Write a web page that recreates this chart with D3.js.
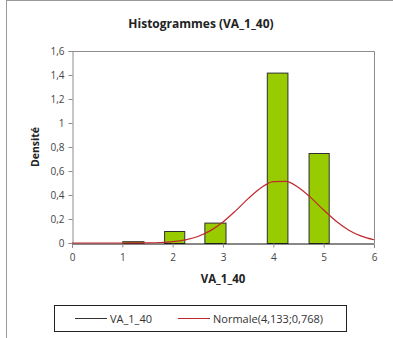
<!DOCTYPE html>
<html>
<head>
<meta charset="utf-8">
<script src="https://cdn.jsdelivr.net/npm/d3@7"></script>
<style>
  html, body { margin: 0; padding: 0; background: #fff; }
  svg { display: block; }
  text { font-family: "Open Sans", "DejaVu Sans", sans-serif; }
</style>
</head>
<body>
<svg id="chart" width="393" height="338"></svg>
<script>
// ---- data ----
const chartTitle = "Histogrammes (VA_1_40)";
const xTitle = "VA_1_40";
const yTitle = "Densité";
const binStart = [1.00, 1.83, 2.63, 3.87, 4.70];
const binEnd   = [1.42, 2.23, 3.05, 4.28, 5.10];
const density  = [0.015, 0.10, 0.17, 1.42, 0.75];
const curveX = [0, 0.25, 0.5, 0.75, 1, 1.25, 1.5, 1.75, 2, 2.25, 2.5, 2.75, 3, 3.25, 3.5, 3.75, 4, 4.25, 4.5, 4.75, 5, 5.25, 5.5, 5.75, 6];
const curveY = [0, 0, 0, 0, 0.0001, 0.0005, 0.0015, 0.0042, 0.011, 0.026, 0.054, 0.103, 0.175, 0.268, 0.370, 0.459, 0.512, 0.514, 0.463, 0.376, 0.275, 0.181, 0.107, 0.057, 0.027];
const xTicks = [0, 1, 2, 3, 4, 5, 6];
const yTicks = [0, 0.2, 0.4, 0.6, 0.8, 1, 1.2, 1.4, 1.6];
const legendLabels = ["VA_1_40", "Normale(4,133;0,768)"];

// ---- layout ----
const svg = d3.select("#chart");
const pL = 72, pR = 374, pT = 51, pB = 243;
const x = d3.scaleLinear().domain([0, 6]).range([pL, pR]);
const y = d3.scaleLinear().domain([0, 1.6]).range([pB, pT]);
const fmt = d => String(d).replace(".", ",");

// outer border
svg.append("line").attr("x1", 6.5).attr("x2", 6.5).attr("y1", 0).attr("y2", 338)
  .attr("stroke", "#9a9a9a").attr("stroke-width", 1);
svg.append("line").attr("x1", 6).attr("x2", 393).attr("y1", 0.5).attr("y2", 0.5)
  .attr("stroke", "#9a9a9a").attr("stroke-width", 1);

// title
svg.append("text").attr("x", 201).attr("y", 28)
  .attr("text-anchor", "middle").attr("font-weight", "bold").attr("font-size", 12)
  .attr("fill", "#222").text(chartTitle);

// plot frame (top, right)
svg.append("path")
  .attr("d", `M${pL},${pT + 0.5}H${pR + 0.5}V${pB}`)
  .attr("fill", "none").attr("stroke", "#8c8c8c").attr("stroke-width", 1);

// y axis
const yAxis = d3.axisLeft(y).tickValues(yTicks).tickFormat(fmt).tickSize(4).tickPadding(4);
const gy = svg.append("g").attr("transform", `translate(${pL + 0.5},0)`).call(yAxis);
gy.select(".domain").attr("stroke", "#8c8c8c");
gy.selectAll(".tick line").attr("stroke", "#8c8c8c");
gy.selectAll(".tick text").attr("font-size", 10).attr("fill", "#444")
  .style("font-family", "'Open Sans', sans-serif");

// bars
svg.append("g").selectAll("rect").data(density).join("rect")
  .attr("x", (d, i) => x(binStart[i]) + 0.5)
  .attr("y", d => y(d) + 0.5)
  .attr("width", (d, i) => x(binEnd[i]) - x(binStart[i]))
  .attr("height", d => Math.max(0, y(0) - y(d)))
  .attr("fill", "#99cc00").attr("stroke", "#2f2f2f").attr("stroke-width", 1);

// x axis
const xAxis = d3.axisBottom(x).tickValues(xTicks).tickFormat(fmt).tickSize(4).tickPadding(6);
const gx = svg.append("g").attr("transform", `translate(0,${pB + 0.5})`).call(xAxis);
gx.select(".domain").attr("stroke", "#111");
gx.selectAll(".tick line").attr("stroke", "#8c8c8c");
gx.selectAll(".tick text").attr("font-size", 10).attr("fill", "#444")
  .style("font-family", "'Open Sans', sans-serif");

// normal curve
const line = d3.line().x((d, i) => x(curveX[i])).y(d => y(d)).curve(d3.curveMonotoneX);
svg.append("path").datum(curveY).attr("d", line)
  .attr("fill", "none").attr("stroke", "#c0282d").attr("stroke-width", 1.2);

// axis titles
svg.append("text").attr("x", (pL + pR) / 2).attr("y", 283)
  .attr("text-anchor", "middle").attr("font-weight", "bold").attr("font-size", 11.5)
  .attr("fill", "#222").text(xTitle);
svg.append("text").attr("transform", `translate(39,${(pT + pB) / 2}) rotate(-90)`)
  .attr("text-anchor", "middle").attr("font-weight", "bold").attr("font-size", 10.5)
  .attr("fill", "#222").text(yTitle);

// legend
svg.append("rect").attr("x", 54.5).attr("y", 305.5).attr("width", 292).attr("height", 26)
  .attr("fill", "#fff").attr("stroke", "#222").attr("stroke-width", 1);
const legendColors = ["#333", "#c0282d"];
const legendX = [75, 178];
legendLabels.forEach((lab, i) => {
  svg.append("line").attr("x1", legendX[i]).attr("x2", legendX[i] + 32)
    .attr("y1", 318.5).attr("y2", 318.5).attr("stroke", legendColors[i]).attr("stroke-width", 1);
  svg.append("text").attr("x", legendX[i] + 35).attr("y", 322.5)
    .attr("font-size", 11).attr("fill", "#333").text(lab);
});
</script>
</body>
</html>
